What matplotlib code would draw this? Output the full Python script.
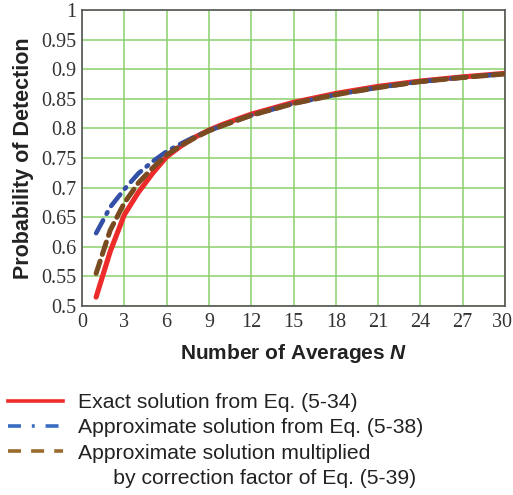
import matplotlib
matplotlib.use("Agg")
from matplotlib import pyplot as plt
from matplotlib.lines import Line2D
from matplotlib.transforms import ScaledTranslation

plt.rcParams["mathtext.fontset"] = "custom"
plt.rcParams["mathtext.it"] = "Liberation Sans:italic:bold"

# number of averages
n_avg = [1, 2, 3, 4, 5, 6, 7, 8, 9, 10, 12, 15, 18, 21, 24, 27, 30]
# exact solution, Eq. (5-34)
p_exact = [0.515, 0.592, 0.654, 0.692, 0.724, 0.752, 0.770, 0.785, 0.797, 0.807,
           0.824, 0.844, 0.859, 0.871, 0.880, 0.887, 0.893]
# approximate solution, Eq. (5-38)
p_approx = [0.623, 0.667, 0.697, 0.724, 0.744, 0.761, 0.774, 0.786, 0.796, 0.805,
            0.822, 0.842, 0.857, 0.869, 0.879, 0.886, 0.892]
# approximate solution x correction factor, Eq. (5-39)
p_corr = [0.555, 0.628, 0.674, 0.708, 0.733, 0.755, 0.771, 0.784, 0.796, 0.805,
          0.822, 0.842, 0.857, 0.869, 0.879, 0.886, 0.892]

x_ticks = list(range(0, 31, 3))
y_ticks = [0.5, 0.55, 0.6, 0.65, 0.7, 0.75, 0.8, 0.85, 0.9, 0.95, 1.0]
y_ticklabels = ["0.5", "0.55", "0.6", "0.65", "0.7", "0.75", "0.8", "0.85", "0.9", "0.95", "1"]

fig = plt.figure(figsize=(5.13, 4.95), dpi=100)
ax = fig.add_axes([82/513, 1 - 306/495, 423/513, 296/495])

l1, = ax.plot(n_avg, p_exact, color="#ee2b2b", lw=3.7, solid_capstyle="round", zorder=3)
l2, = ax.plot(n_avg, p_approx, color="#3450a6", lw=3.3, dashes=(3.2, 1.6, 0.4, 1.6),
              dash_capstyle="round", zorder=4)
l3, = ax.plot(n_avg, p_corr, color="#7a4a20", lw=3.6, dashes=(2.6, 1.4),
              dash_capstyle="round", zorder=5)

ax.set_xlim(0, 30)
ax.set_ylim(0.5, 1.0)
ax.set_xticks(x_ticks)
ax.set_yticks(y_ticks)
ax.set_yticklabels(y_ticklabels)
ax.grid(True, color="#8ccf6a", lw=1.1)
ax.set_axisbelow(True)
ax.tick_params(length=0, pad=4, labelsize=14.5, colors="#333333")
ax.tick_params(axis="x", pad=5)
for lab in ax.get_xticklabels() + ax.get_yticklabels():
    lab.set_family("Liberation Serif")
# last x label sits at the figure edge, nudge it in a little
last = ax.get_xticklabels()[-1]
last.set_transform(last.get_transform() + ScaledTranslation(-3/100, 0, fig.dpi_scale_trans))
for s in ax.spines.values():
    s.set_color("#555555")
    s.set_linewidth(1.2)

ax.set_xlabel("Number of Averages $\\mathit{N}$", fontsize=15, fontweight="bold",
              family="Liberation Sans", color="#222222", labelpad=7)
ax.set_ylabel("Probability of Detection", fontsize=15.5, fontweight="bold",
              family="Liberation Sans", color="#222222", labelpad=5)

blank = Line2D([], [], lw=0)
leg_l1 = Line2D([], [], color="#ee2b2b", lw=2.6)
leg_l2 = Line2D([], [], color="#3a6cc0", lw=2.6, dashes=(3.6, 3.0, 0.8, 3.0))
leg_l3 = Line2D([], [], color="#9a6a2e", lw=2.6, dashes=(3.6, 2.8))
fig.legend([leg_l1, leg_l2, leg_l3, blank],
           ["Exact solution from Eq. (5-34)",
            "Approximate solution from Eq. (5-38)",
            "Approximate solution multiplied",
            "      by correction factor of Eq. (5-39)"],
           loc="upper left", bbox_to_anchor=(8/513, 1 - 393/495), frameon=False,
           prop={"family": "Liberation Sans", "size": 15.2},
           handlelength=2.6, handletextpad=0.72, labelspacing=0.3, borderaxespad=0,
           borderpad=0, labelcolor="#222222")

fig.savefig("out.png", dpi=100)
